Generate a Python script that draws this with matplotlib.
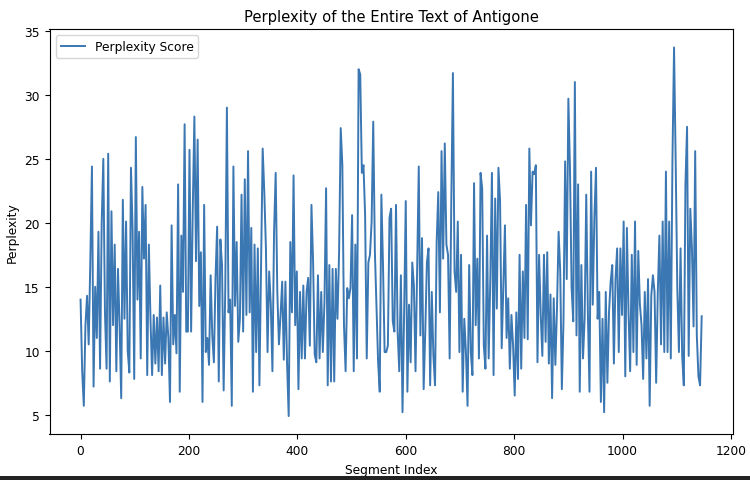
import numpy as np
import matplotlib
matplotlib.use("Agg")
import matplotlib.pyplot as plt
from matplotlib.patches import Rectangle

# perplexity, one value every 3 segments
perplexity_0 = [14.0, 8.4, 5.7, 12.0, 14.3, 10.5, 17.0, 24.4, 7.2, 15.0,
                11.0, 19.3, 8.6, 20.0, 25.0, 13.0, 8.6, 25.4, 7.6, 20.9,
                12.0, 18.3, 8.4, 16.4, 12.0, 6.3, 21.8, 12.5, 20.1, 10.0,
                8.3, 24.3, 19.5, 7.8, 26.7, 14.0, 19.3, 9.4, 22.8, 17.2,
                21.4, 8.1, 18.3, 12.5, 8.1, 12.8, 9.0, 12.6, 8.4, 15.1,
                8.1, 12.6, 9.0, 13.0, 11.0, 6.0, 19.8, 10.5, 12.8, 9.8,
                23.0]
perplexity_1 = [6.8, 19.0, 14.6, 27.7, 11.5, 11.5, 25.7, 11.5, 21.0, 28.3,
                17.0, 26.5, 13.5, 17.7, 6.0, 21.4, 9.9, 11.0, 8.9, 15.9,
                11.2, 9.1, 15.7, 19.7, 7.6, 18.7, 16.7, 6.9, 14.9, 29.0,
                13.0, 14.0, 5.7, 24.4, 13.5, 18.5, 10.7, 12.5, 22.2, 11.5,
                23.4, 12.8, 25.6, 13.0, 19.6, 6.8, 18.3, 9.9, 18.0, 7.3,
                16.4, 25.8, 22.4, 18.0, 9.9, 16.2, 13.6, 8.4, 19.3, 23.9,
                14.6, 10.5, 12.8, 15.4]
perplexity_2 = [9.3, 15.4, 9.0, 4.9, 18.5, 13.0, 23.7, 12.0, 16.2, 7.0,
                14.6, 9.4, 15.1, 9.4, 14.6, 15.7, 10.4, 21.4, 17.0, 9.7,
                9.1, 15.9, 9.4, 14.6, 9.9, 13.8, 22.7, 7.3, 16.7, 7.6,
                16.4, 7.6, 16.4, 12.5, 17.7, 27.4, 24.5, 12.0, 8.4, 14.9,
                14.1, 14.9, 20.6, 8.4, 18.3, 9.4, 32.0, 31.6, 23.9, 24.5,
                20.6, 9.4, 16.9, 17.5, 20.1, 27.9, 17.8, 13.3, 9.1, 6.8,
                22.2, 16.7, 9.9, 9.9, 10.4, 20.4]
perplexity_3 = [21.1, 12.3, 11.5, 21.4, 11.5, 8.4, 15.9, 5.2, 13.0, 21.7,
                6.8, 13.6, 9.1, 16.9, 15.1, 8.4, 16.2, 24.4, 11.2, 18.8,
                7.0, 11.5, 16.9, 18.0, 7.3, 14.6, 9.6, 7.3, 18.5, 22.4,
                13.0, 25.6, 17.2, 26.2, 18.3, 17.5, 9.4, 21.7, 31.7, 16.2,
                14.6, 20.1, 9.9, 17.5, 6.8, 12.5, 9.9, 5.7, 16.7, 9.9,
                8.1, 23.1, 12.0, 17.2, 9.4, 23.9, 22.7, 10.4, 8.6, 19.0,
                9.4, 15.6, 23.9, 8.1, 21.9]
perplexity_4 = [13.3, 24.3, 21.7, 10.2, 14.9, 19.8, 11.0, 14.1, 8.6, 12.8,
                10.4, 6.5, 13.0, 7.8, 17.5, 8.6, 16.2, 11.0, 21.4, 10.9,
                25.8, 19.8, 24.0, 23.8, 24.5, 9.1, 17.5, 12.8, 9.6, 17.5,
                10.7, 17.7, 9.0, 14.4, 6.3, 14.1, 8.9, 13.3, 19.3, 16.2,
                7.0, 12.3, 24.8, 15.6, 29.7, 24.2, 14.9, 12.3, 31.0, 11.2,
                23.0, 6.8, 16.7, 9.4, 12.5, 22.2, 13.0, 6.8, 24.0, 13.6,
                20.4, 24.3, 12.5, 14.6, 6.0]
perplexity_5 = [12.5, 5.2, 14.6, 7.5, 13.0, 15.4, 16.7, 9.0, 15.6, 18.0,
                9.9, 18.0, 12.8, 20.1, 8.0, 19.6, 13.0, 8.4, 17.5, 9.9,
                20.1, 8.9, 17.8, 13.6, 12.0, 7.8, 14.6, 9.4, 15.6, 5.7,
                14.3, 15.9, 14.6, 7.5, 14.6, 19.0, 10.5, 20.1, 9.9, 24.0,
                9.9, 20.1, 9.4, 24.8, 33.7, 24.8, 14.9, 9.9, 18.0, 9.6,
                7.3, 23.0, 27.5, 9.6, 21.1, 18.0, 11.9, 25.6, 11.2, 8.0,
                7.3, 12.7]

perplexity = (perplexity_0 + perplexity_1 + perplexity_2
              + perplexity_3 + perplexity_4 + perplexity_5)
segment_step = 3
segment_index = np.arange(len(perplexity)) * segment_step

plt.rcParams['font.size'] = 8.8

fig = plt.figure(figsize=(7.5, 4.81), dpi=100)
ax = fig.add_axes([0.066, 0.0946, 0.911, 0.843])

ax.plot(segment_index, perplexity, color='#3b77b2', linewidth=1.4, label='Perplexity Score')
ax.set_title('Perplexity of the Entire Text of Antigone', fontsize=10.6)
ax.set_xlabel('Segment Index')
ax.set_ylabel('Perplexity')
ax.set_yticks([5, 10, 15, 20, 25, 30, 35])
ax.legend(loc='upper left')

# dark strip along the bottom edge of the screenshot
fig.patches.append(Rectangle((0, 0), 1, 0.008, transform=fig.transFigure,
                             facecolor='#222222', edgecolor='none'))

fig.savefig('out.png', dpi=100)
